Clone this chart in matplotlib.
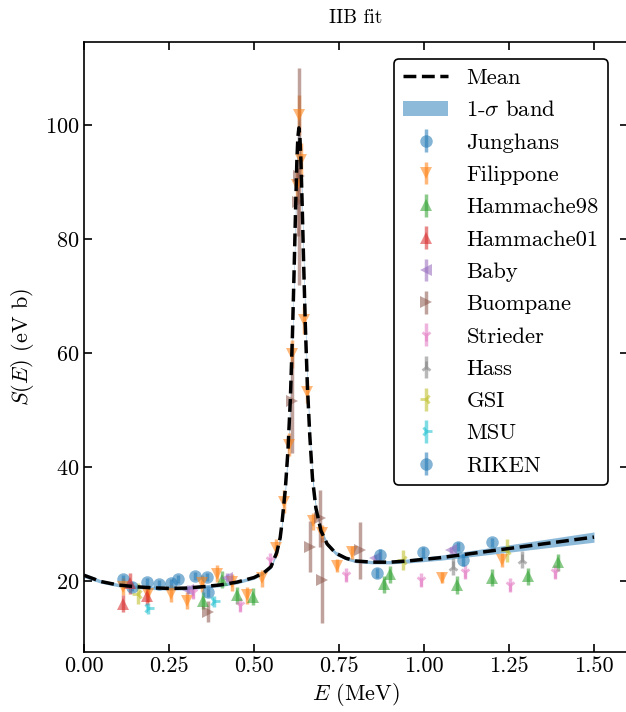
import numpy as np
import matplotlib
matplotlib.use('Agg')
import matplotlib.pyplot as plt
from matplotlib.patches import Patch
from matplotlib.lines import Line2D

# Fonte estilo LaTeX
plt.rcParams['font.family'] = 'serif'
plt.rcParams['font.serif'] = ['cmr10']
plt.rcParams['mathtext.fontset'] = 'cm'
plt.rcParams['axes.formatter.use_mathtext'] = True

# Curva media
E_mean = [0.000, 0.050, 0.100, 0.150, 0.200, 0.250, 0.300, 0.350, 0.400, 0.450,
          0.500, 0.530, 0.550, 0.567, 0.577, 0.582, 0.592, 0.600, 0.607, 0.613,
          0.618, 0.622, 0.626, 0.629, 0.632, 0.635, 0.638, 0.642, 0.646, 0.651,
          0.657, 0.664, 0.672, 0.682, 0.697, 0.715, 0.740, 0.770, 0.800, 0.850,
          0.900, 0.950, 1.000, 1.050, 1.100, 1.150, 1.200, 1.250, 1.300, 1.350,
          1.400, 1.450, 1.500]
S_mean = [21.0, 19.9, 19.3, 19.0, 18.8, 18.7, 18.75, 19.0, 19.3, 19.8,
          20.6, 21.5, 22.5, 25.0, 27.6, 30.0, 36.0, 43.0, 52.0, 63.0,
          74.5, 84.5, 93.5, 97.8, 99.5, 97.9, 93.8, 85.2, 75.8, 64.8,
          54.3, 45.6, 38.0, 32.8, 28.8, 26.5, 24.9, 24.0, 23.5, 23.3,
          23.3, 23.5, 23.8, 24.1, 24.5, 24.9, 25.3, 25.7, 26.1, 26.5,
          26.9, 27.3, 27.7]
S_sig = [0.4, 0.3, 0.3, 0.3, 0.3, 0.3, 0.3, 0.3, 0.3, 0.3,
         0.3, 0.3, 0.3, 0.4, 0.5, 0.6, 0.8, 1.0, 1.2, 1.4,
         1.6, 1.8, 1.9, 2.0, 2.0, 2.0, 1.9, 1.8, 1.6, 1.4,
         1.2, 1.0, 0.8, 0.6, 0.5, 0.4, 0.35, 0.3, 0.3, 0.3,
         0.3, 0.35, 0.4, 0.45, 0.5, 0.55, 0.6, 0.65, 0.7, 0.75,
         0.8, 0.85, 0.9]

# Dados experimentais
junghans_E = [0.116, 0.141, 0.185, 0.221, 0.255, 0.277, 0.326, 0.361, 0.364, 0.861, 1.101, 1.199]
junghans_S = [20.3, 19.0, 19.8, 19.5, 19.6, 20.3, 20.9, 20.7, 18.0, 21.4, 26.0, 26.8]
junghans_err = [0.8, 0.8, 0.7, 0.7, 0.7, 0.7, 0.7, 0.7, 0.8, 0.8, 0.8, 0.8]

filippone_E = [0.116, 0.189, 0.255, 0.302, 0.346, 0.390, 0.434, 0.478, 0.523, 0.565,
               0.588, 0.602, 0.611, 0.626, 0.632, 0.637, 0.647, 0.655, 0.674, 0.699,
               0.743, 0.787, 1.052, 1.228]
filippone_S = [19.0, 17.8, 17.8, 16.5, 19.6, 21.3, 19.8, 17.5, 20.5, 25.8,
               33.9, 43.9, 59.8, 89.5, 101.8, 93.9, 65.8, 53.2, 30.5, 28.4,
               22.7, 25.0, 20.6, 23.7]
filippone_err = [1.5, 1.5, 1.5, 1.5, 1.5, 1.5, 1.5, 1.5, 1.5, 1.5,
                 2.0, 2.0, 2.5, 3.0, 3.5, 3.0, 2.5, 2.0, 1.5, 1.5,
                 1.2, 1.2, 1.0, 1.2]

hammache98_E = [0.351, 0.405, 0.449, 0.498, 0.881, 0.900, 1.096, 1.199, 1.307, 1.395]
hammache98_S = [16.5, 20.2, 17.5, 17.2, 19.4, 21.2, 19.3, 20.6, 20.8, 23.3]
hammache98_err = [1.5, 1.5, 1.5, 1.5, 1.5, 1.5, 1.5, 1.5, 1.5, 1.5]

hammache01_E = [0.116, 0.135, 0.185]
hammache01_S = [16.0, 19.6, 17.3]
hammache01_err = [1.5, 1.8, 1.5]

baby_E = [0.307, 0.420, 0.855, 1.080]
baby_S = [18.5, 20.6, 24.0, 25.4]
baby_err = [0.8, 0.8, 0.6, 0.6]

buompane_E = [0.366, 0.611, 0.630, 0.633, 0.665, 0.694, 0.699, 0.812]
buompane_S = [14.6, 51.5, 86.5, 91.0, 26.0, 31.0, 20.2, 25.4]
buompane_err = [1.8, 9.0, 6.0, 19.0, 4.5, 5.0, 7.5, 5.0]

strieder_E = [0.322, 0.459, 0.547, 0.771, 0.990, 1.121, 1.253, 1.385]
strieder_S = [18.1, 15.8, 23.7, 21.1, 20.2, 21.6, 19.3, 21.6]
strieder_err = [1.2, 1.2, 1.2, 1.2, 1.2, 1.2, 1.2, 1.2]

hass_E = [1.086, 1.287]
hass_S = [22.5, 23.7]
hass_err = [1.5, 1.5]

gsi_E = [0.160, 0.939, 1.243]
gsi_S = [17.8, 23.7, 25.4]
gsi_err = [1.8, 1.8, 2.0]

msu_E = [0.189, 0.383]
msu_S = [15.2, 16.4]
msu_err = [1.0, 1.0]

riken_E = [0.871, 0.998, 1.116]
riken_S = [24.6, 25.0, 23.7]
riken_err = [1.0, 1.0, 1.0]

datasets = [
    ('Junghans', junghans_E, junghans_S, junghans_err, 'o', 'C0'),
    ('Filippone', filippone_E, filippone_S, filippone_err, 'v', 'C1'),
    ('Hammache98', hammache98_E, hammache98_S, hammache98_err, '^', 'C2'),
    ('Hammache01', hammache01_E, hammache01_S, hammache01_err, '^', 'C3'),
    ('Baby', baby_E, baby_S, baby_err, '<', 'C4'),
    ('Buompane', buompane_E, buompane_S, buompane_err, '>', 'C5'),
    ('Strieder', strieder_E, strieder_S, strieder_err, '1', 'C6'),
    ('Hass', hass_E, hass_S, hass_err, '2', 'C7'),
    ('GSI', gsi_E, gsi_S, gsi_err, '3', 'C8'),
    ('MSU', msu_E, msu_S, msu_err, '4', 'C9'),
    ('RIKEN', riken_E, riken_S, riken_err, 'o', 'C0'),
]

fig = plt.figure(figsize=(6.26, 7.12), dpi=100)
ax = fig.add_axes([84/626, 60/712, 544/626, 610/712])

E_mean = np.array(E_mean)
S_mean = np.array(S_mean)
S_sig = np.array(S_sig)

# Banda de 1 sigma e media
ax.fill_between(E_mean, S_mean - S_sig, S_mean + S_sig, color='C0', alpha=0.5, lw=0, zorder=1)

handles = [Line2D([], [], color='k', ls='--', lw=2.5),
           Patch(facecolor='C0', alpha=0.5)]
labels = ['Mean', r'1-$\sigma$ band']

for name, x, y, e, m, c in datasets:
    filled = m in 'ov^<>'
    h = ax.errorbar(x, y, yerr=e, fmt=m, color=c, ms=9 if filled else 8,
                    mew=0 if filled else 2, elinewidth=2.5, alpha=0.55, zorder=2)
    handles.append(h)
    labels.append(name)

ax.plot(E_mean, S_mean, 'k--', lw=2.5, zorder=3)

ax.set_xlim(0, 1.6)
ax.set_ylim(7.54, 114.56)
ax.set_xticks([0, 0.25, 0.5, 0.75, 1.0, 1.25, 1.5])
ax.set_xticklabels(['0.00', '0.25', '0.50', '0.75', '1.00', '1.25', '1.50'])
ax.set_yticks([20, 40, 60, 80, 100])

ax.tick_params(direction='in', top=True, right=True, length=6, width=1.2, labelsize=16)
for s in ax.spines.values():
    s.set_linewidth(1.2)

ax.set_xlabel(r'$E$ (MeV)', fontsize=16, labelpad=3)
ax.set_ylabel(r'$S(E)$ (eV b)', fontsize=16, labelpad=6)
ax.set_title('IIB fit', fontsize=14, pad=14)

leg = ax.legend(handles, labels, loc='upper right', fontsize=16.3, framealpha=1,
                edgecolor='k', fancybox=True, bbox_to_anchor=(0.963, 0.972),
                borderaxespad=0, labelspacing=0.55)
leg.get_frame().set_linewidth(1.2)

plt.savefig('out.png', dpi=100)
